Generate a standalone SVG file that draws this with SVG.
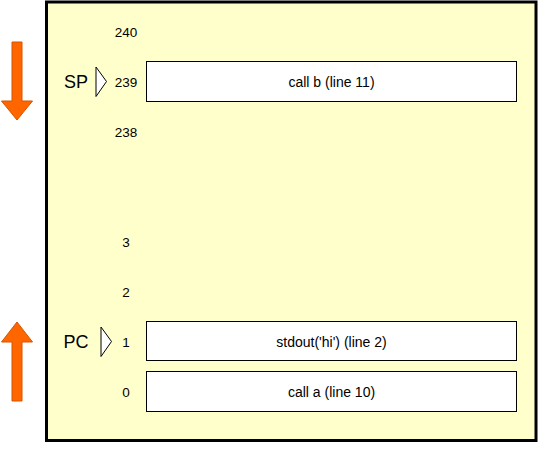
<svg xmlns="http://www.w3.org/2000/svg" width="538" height="450" viewBox="0 0 538 450">
<style>
.t{font-family:"Liberation Sans",Arial,sans-serif;font-size:14px;fill:#000;text-anchor:middle;dominant-baseline:central}
.n{font-family:"Liberation Sans",Arial,sans-serif;font-size:13.5px;fill:#000;text-anchor:middle;dominant-baseline:central}
.l{font-family:"Liberation Sans",Arial,sans-serif;font-size:18px;fill:#000;text-anchor:middle;dominant-baseline:central}
.box{fill:#fff;stroke:#000;stroke-width:1}
.ptr{fill:#fff;stroke:#000;stroke-width:1}
.arr{fill:#ff6600;stroke:#d45500;stroke-width:1}
</style>
<g id="frame"><rect x="46.5" y="2" width="489.5" height="438.5" fill="#ffffcc" stroke="#000" stroke-width="3"/></g>
<g id="arrow-down"><path class="arr" d="M12,42 H22 V101 H32.5 L17,120 L1.5,101 H12 Z"/></g>
<g id="arrow-up"><path class="arr" d="M12,401 H22 V342 H32.5 L17,322 L1.5,342 H12 Z"/></g>
<g id="sp"><text class="l" x="76" y="81.5">SP</text><path class="ptr" d="M96,67 L106.5,81.5 L96,96.5 Z"/></g>
<g id="pc"><text class="l" x="76" y="341.5">PC</text><path class="ptr" d="M101,327 L111.5,341.5 L101,356.5 Z"/></g>
<g id="addresses">
<text class="n" x="126" y="32">240</text>
<text class="n" x="126" y="82">239</text>
<text class="n" x="126" y="132">238</text>
<text class="n" x="126" y="242">3</text>
<text class="n" x="126" y="292">2</text>
<text class="n" x="126" y="342">1</text>
<text class="n" x="126" y="392">0</text>
</g>
<g id="cell-239"><rect class="box" x="146.5" y="61.5" width="370" height="40"/><text class="t" x="331.5" y="82">call b (line 11)</text></g>
<g id="cell-1"><rect class="box" x="146.5" y="321.5" width="370" height="39"/><text class="t" x="331.5" y="342">stdout('hi') (line 2)</text></g>
<g id="cell-0"><rect class="box" x="146.5" y="371.5" width="370" height="40"/><text class="t" x="331.5" y="392">call a (line 10)</text></g>
</svg>
